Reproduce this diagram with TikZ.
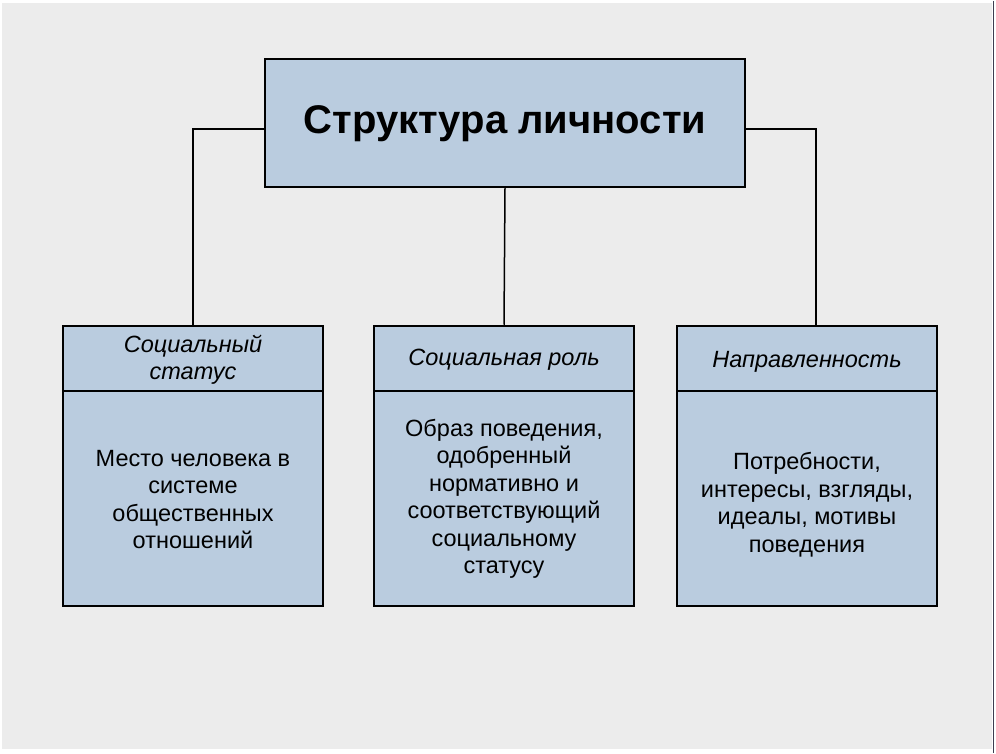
\documentclass[tikz,border=0pt]{standalone}
\usepackage{fontspec}
\setmainfont{Liberation Sans}
\usepackage{tikz}
\definecolor{pagegray}{RGB}{236, 236, 236}
\definecolor{boxblue}{RGB}{186, 204, 223}
\definecolor{edgedark}{RGB}{60, 62, 80}

\tikzset{
  topbox/.style={draw=black, line width=2pt, fill=boxblue, minimum width=480pt,
    minimum height=128pt, inner sep=0pt, font=\fontsize{40}{44}\selectfont\bfseries},
  card/.style={draw=black, line width=2pt, fill=boxblue, minimum width=260pt,
    minimum height=280pt, inner sep=0pt},
  headtext/.style={align=center, font=\fontsize{23.5}{27}\selectfont\itshape},
  bodytext/.style={align=center, font=\fontsize{23.5}{27.5}\selectfont},
  link/.style={draw=black, line width=1.5pt}
}

\begin{document}
\begin{tikzpicture}[x=1pt, y=-1pt]
% page
\fill[white] (0,0) rectangle (996,752);
\fill[pagegray] (2,2) rectangle (992,748);
\draw[edgedark, line width=1.5pt] (993.5,0) -- (993.5,752);
\useasboundingbox (0,0) rectangle (996,752);

% top box
\node[topbox] (title) at (505,122.5) {Структура личности};

% three boxes
\node[card] (status) at (193,465) {};
\node[card] (role) at (504,465) {};
\node[card] (dir) at (807,465) {};

% header dividers
\foreach \b in {status,role,dir} {
  \draw[black, line width=2pt] ([yshift=-66pt]\b.north west) -- ([yshift=-66pt]\b.north east);
}

% headers
\node[headtext] (status-h) at (193,359) {Социальный\\статус};
\node[headtext] (role-h) at (504,359) {Социальная роль};
\node[headtext] (dir-h) at (807,361) {Направленность};

% texts
\node[bodytext] (status-b) at (193,499) {Место человека в\\системе\\общественных\\отношений};
\node[bodytext] (role-b) at (504,498) {Образ поведения,\\одобренный\\нормативно и\\соответствующий\\социальному\\статусу};
\node[bodytext] (dir-b) at (807,504) {Потребности,\\интересы, взгляды,\\идеалы, мотивы\\поведения};

% connectors
\draw[link] ([yshift=-6pt]title.west) -| (status.north);
\draw[link] (title.south) -- (role.north);
\draw[link] ([yshift=-6pt]title.east) -| ([xshift=9pt]dir.north);
\end{tikzpicture}
\end{document}
